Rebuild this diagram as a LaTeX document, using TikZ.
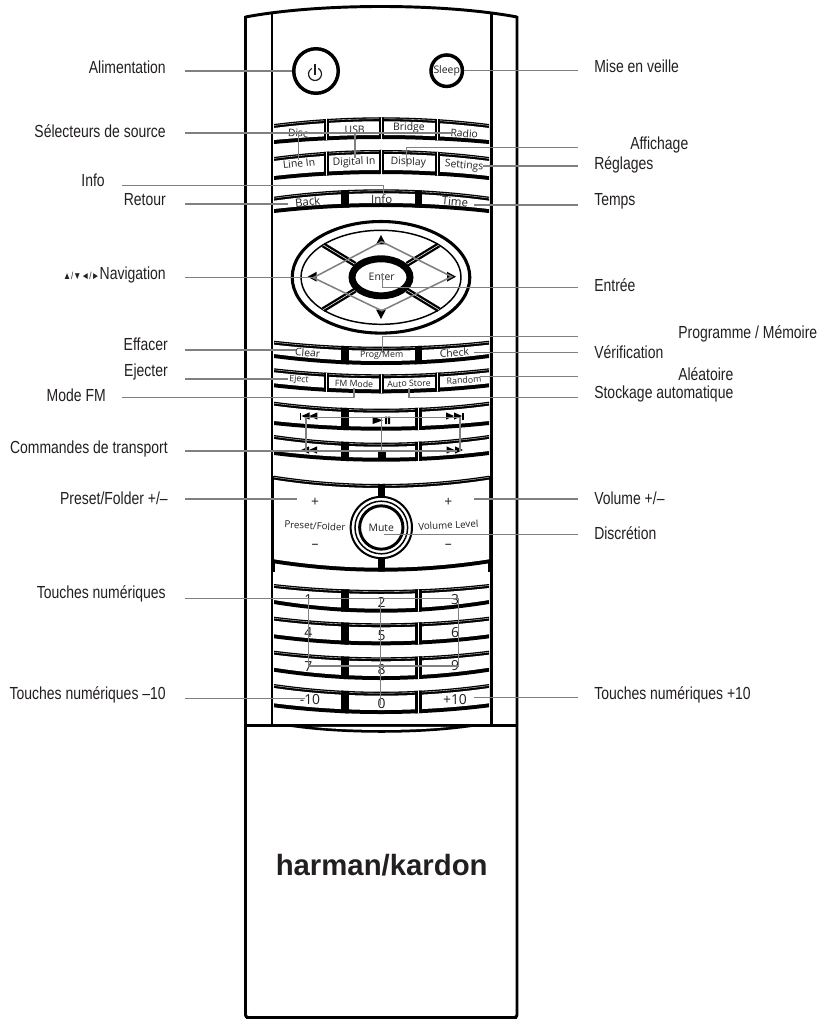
\documentclass[tikz,border=0pt]{standalone}
\usepackage{fontspec}
\setmainfont[FakeStretch=0.8]{Liberation Sans}
\newfontfamily\keyfamily{Open Sans}
\newfontfamily\logofamily{Liberation Sans}
\usetikzlibrary{calc}
\definecolor{leaderGray}{RGB}{128,128,128}
\definecolor{inkDark}{RGB}{35,31,32}
\tikzset{
  leader/.style={draw=leaderGray, line width=1.15pt},
  calloutR/.style={anchor=west, text=inkDark, font=\fontsize{13.1}{15}\selectfont, inner sep=0pt},
  calloutL/.style={anchor=east, text=inkDark, font=\fontsize{13.1}{15}\selectfont, inner sep=0pt},
  keytxt/.style={text=inkDark, font=\keyfamily\fontsize{7.8}{9}\selectfont, inner sep=0pt},
  smalltxt/.style={text=inkDark, font=\keyfamily\fontsize{6.6}{8}\selectfont, inner sep=0pt},
  numtxt/.style={text=inkDark, font=\keyfamily\fontsize{10.4}{12}\selectfont, inner sep=0pt},
  slitDiv/.style={line width=1.75pt, double=white, double distance=0.4pt},
  solidDiv/.style={line width=5.4pt},
  wideDiv/.style={line width=2.4pt, double=white, double distance=0.6pt}
}
\newcommand{\keyrow}[5]{%
  \pgfmathsetmacro{\ctop}{#1+(#2-#1)*4/3}
  \pgfmathsetmacro{\cbot}{#3+(#4-#3)*4/3}
  \begin{scope}
    \fill[black] (274,#1) .. controls (345,\ctop) and (417,\ctop) .. (489,#1)
      -- (489,#3) .. controls (417,\cbot) and (345,\cbot) .. (274,#3) -- cycle;
    \fill[white] (274,#1+4) .. controls (345,\ctop+4) and (417,\ctop+4) .. (489,#1+4)
      -- (489,#3-4) .. controls (417,\cbot-4) and (345,\cbot-4) .. (274,#3-4) -- cycle;
    \draw[white, line width=0.25pt] (274,#1+1.5) .. controls (345,\ctop+1.5) and (417,\ctop+1.5) .. (489,#1+1.5);
    \clip (274,#1) .. controls (345,\ctop) and (417,\ctop) .. (489,#1)
      -- (489,#3) .. controls (417,\cbot) and (345,\cbot) .. (274,#3) -- cycle;
    \foreach \dx/\ds in {#5} {\draw[\ds] (\dx,0) -- (\dx,1023);}
  \end{scope}}
\newcommand{\triR}[2]{\fill[black] (#1,#2-3.6) -- (#1+8,#2) -- (#1,#2+3.6) -- cycle;}
\newcommand{\triL}[2]{\fill[black] (#1,#2-3.6) -- (#1-8,#2) -- (#1,#2+3.6) -- cycle;}
\begin{document}
\begin{tikzpicture}[x=0.75pt, y=-0.75pt]
  \useasboundingbox (0,0) rectangle (823,1023);
  % case
  \draw[line width=2.2pt] (245.5,17) .. controls (320,3) and (442,3) .. (517,17);
  \draw[line width=2.2pt, rounded corners=2pt] (245.5,16.2) -- (245.5,1017.5) -- (517,1017.5) -- (517,16.2);
  \draw[line width=1.6pt] (245.5,1017.5) -- (517,1017.5);
  \draw[line width=2.2pt] (272,12.5) -- (272,725) (491.5,12.5) -- (491.5,725);
  \draw[line width=3.6pt] (273,476) -- (273,572) (490.5,476) -- (490.5,572);
  \draw[line width=2.2pt] (245.5,725.7) -- (517,725.7);
  \fill[black] (285,726) .. controls (340,735) and (423,735) .. (478,726) -- cycle;
  \fill[white] (312,726.8) .. controls (350,731) and (413,731) .. (450,726.8) -- cycle;
  % round buttons
  \node[draw, circle, line width=2.6pt, minimum size=33.4pt, inner sep=0pt] (pwrBtn) at (316,71) {};
  \draw[line width=0.9pt, inkDark] ([shift={(-60:6.5)}]315,74) arc (-60:240:6.5);
  \draw[line width=0.9pt, inkDark] (315,64) -- (315,75);
  \node[draw, circle, line width=2.6pt, minimum size=23.6pt, inner sep=0pt, keytxt] (sleepBtn) at (446.7,70.7) {Sleep};
  % source keys
  \keyrow{124}{117.3}{144}{139}{326.7/slitDiv,381.7/slitDiv,437.3/slitDiv}
  \keyrow{157}{150}{180}{174}{326.7/slitDiv,381.7/slitDiv,437.3/slitDiv}
  \keyrow{196.7}{189.3}{213}{207}{345/solidDiv,418.3/solidDiv}
  \node[keytxt, rotate=-3] (keyDisc) at (298,133) {Disc};
  \node[keytxt] (keyUsb) at (354.7,129.3) {USB};
  \node[keytxt] (keyBridge) at (409,128.3) {Bridge};
  \node[keytxt, rotate=-4] (keyRadio) at (464.3,133.3) {Radio};
  \node[keytxt, rotate=6] (keyLineIn) at (299,163.3) {Line In};
  \node[keytxt, rotate=2] (keyDigital) at (354,162.3) {Digital In};
  \node[keytxt, rotate=-2] (keyDisplay) at (408.3,162.3) {Display};
  \node[keytxt, rotate=-5] (keySettings) at (464,166) {Settings};
  \node[keytxt, font=\keyfamily\fontsize{8.6}{10}\selectfont, rotate=6] (keyBack) at (307.7,201.7) {Back};
  \node[keytxt, font=\keyfamily\fontsize{8.6}{10}\selectfont] (keyInfo) at (381.7,198.7) {Info};
  \node[keytxt, font=\keyfamily\fontsize{8.6}{10}\selectfont, rotate=-5] (keyTime) at (455,201.7) {Time};
  % navigation
  \draw[line width=2.3pt] (381,277.3) ellipse (88.8 and 55.8);
  \draw[line width=1.1pt] (381,277.3) ellipse (80 and 47);
  \draw[slitDiv] (323.3,245) -- (355,264.3);
  \draw[slitDiv] (438.7,245) -- (407,264.3);
  \draw[slitDiv] (323.3,309.6) -- (355,290.3);
  \draw[slitDiv] (438.7,309.6) -- (407,290.3);
  \draw[line width=5.2pt, fill=white] (381,277.3) ellipse (29 and 18.5);
  \node[keytxt] (keyEnter) at (381.7,277.3) {Enter};
  \fill[black] (381,235) -- (386,244.5) -- (376,244.5) -- cycle;
  \fill[black] (381,319) -- (386,309.5) -- (376,309.5) -- cycle;
  \fill[black] (307.7,276.7) -- (316.7,271.7) -- (316.7,281.7) -- cycle;
  \fill[black] (456,276.7) -- (447,271.7) -- (447,281.7) -- cycle;
  % function keys
  \keyrow{340.7}{346.7}{358}{365}{345/solidDiv,418.3/solidDiv}
  \keyrow{368.3}{374.3}{387.3}{393.3}{326.7/slitDiv,381.7/slitDiv,437.3/slitDiv}
  \keyrow{401.7}{408.7}{425}{430.7}{345/solidDiv,418.3/wideDiv}
  \keyrow{435}{442.7}{455}{461.7}{345/solidDiv,418.3/wideDiv}
  \node[keytxt, rotate=-4] (keyClear) at (307.7,352.7) {Clear};
  \node[smalltxt] (keyProg) at (381.7,355) {Prog/Mem};
  \node[keytxt, rotate=4] (keyCheck) at (454.3,352.7) {Check};
  \node[smalltxt, rotate=-4] (keyEject) at (299,380) {Eject};
  \node[smalltxt, rotate=-1] (keyFm) at (354,383.7) {FM Mode};
  \node[smalltxt, rotate=1] (keyAuto) at (409,383.7) {Auto Store};
  \node[smalltxt, rotate=4] (keyRandom) at (464,380) {Random};
  % transport symbols
  \fill[black] (300,412.5) rectangle (301.3,419.7);
  \triL{309.5}{416} \triL{317.3}{416}
  \triR{446}{416} \triR{454}{416}
  \fill[black] (462.3,412.5) rectangle (463.7,419.7);
  \triL{309}{450} \triL{317}{450}
  \triR{446.5}{450} \triR{455}{450}
  \fill[black] (372.7,416.7) -- (383,420.3) -- (372.7,424) -- cycle;
  \fill[black] (385,416.7) rectangle (387,424) (388,416.7) rectangle (390,424);
  \fill[black] (378.3,450.7) rectangle (386,457.5);
  % level panel
  \keyrow{475.7}{484}{563.3}{571.7}{381.7/solidDiv}
  \fill[white] (345,497) rectangle (418,558);
  \node[draw, circle, line width=1.5pt, minimum size=46pt, inner sep=0pt, fill=white] (muteRingA) at (381.3,527.5) {};
  \node[draw, circle, line width=1.1pt, minimum size=39.5pt, inner sep=0pt] (muteRingB) at (381.3,527.5) {};
  \node[draw, circle, line width=2.2pt, minimum size=32.5pt, inner sep=0pt, keytxt] (muteBtn) at (381.3,527.5) {Mute};
  \node[numtxt] (presetPlus) at (315,502.7) {+};
  \node[keytxt, font=\keyfamily\fontsize{7.3}{9}\selectfont, rotate=-3] (presetTxt) at (315,525.7) {Preset/Folder};
  \node[numtxt] (presetMinus) at (315,546.7) {–};
  \node[numtxt] (volPlus) at (448.3,502.7) {+};
  \node[keytxt, font=\keyfamily\fontsize{7.3}{9}\selectfont, rotate=3] (volTxt) at (448.3,525) {Volume Level};
  \node[numtxt] (volMinus) at (448.3,546.7) {–};
  % number keys
  \keyrow{584}{590}{604}{612.7}{345/solidDiv,418.3/wideDiv}
  \keyrow{616.7}{623.3}{638.3}{645.3}{345/solidDiv,418.3/wideDiv}
  \keyrow{650.7}{657.3}{671.7}{680}{345/solidDiv,418.3/wideDiv}
  \keyrow{684}{691.7}{707.3}{714}{345/solidDiv,418.3/wideDiv}
  \node[numtxt] (num1) at (308.3,599.3) {1};
  \node[numtxt] (num2) at (381.7,602.3) {2};
  \node[numtxt] (num3) at (455,599.3) {3};
  \node[numtxt] (num4) at (308.3,632.7) {4};
  \node[numtxt] (num5) at (381.7,635.7) {5};
  \node[numtxt] (num6) at (455,632.7) {6};
  \node[numtxt] (num7) at (308.3,666.7) {7};
  \node[numtxt] (num8) at (381.7,670) {8};
  \node[numtxt] (num9) at (455,666) {9};
  \node[numtxt] (numMinus) at (310,700) {-10};
  \node[numtxt] (num0) at (381.7,703.3) {0};
  \node[numtxt] (numPlus) at (455,699.3) {+10};
  \node[font=\logofamily\bfseries\fontsize{22}{24}\selectfont, text=inkDark, inner sep=0pt] (logo) at (381.7,865) {harman/kardon};
  % callouts, left side
  \node[calloutL] (lblPower) at (166,67) {Alimentation};
  \node[calloutL] (lblSource) at (166,130.7) {Sélecteurs de source};
  \node[calloutL] (lblInfo) at (105,180) {Info};
  \node[calloutL] (lblBack) at (166,200) {Retour};
  \node[calloutL] (lblNav) at (166,275) {{\fontsize{7.6}{8}\selectfont ▲/▼◄/►}Navigation};
  \node[calloutL] (lblClear) at (168,344) {Effacer};
  \node[calloutL] (lblEject) at (168,372) {Ejecter};
  \node[calloutL] (lblFm) at (106,395) {Mode FM};
  \node[calloutL] (lblTrans) at (168,449) {Commandes de transport};
  \node[calloutL] (lblPreset) at (168,498) {Preset/Folder +/–};
  \node[calloutL] (lblNum) at (166,594) {Touches numériques};
  \node[calloutL] (lblMinus) at (166,695) {Touches numériques –10};
  % callouts, right side
  \node[calloutR] (lblSleep) at (594,66) {Mise en veille};
  \node[calloutR] (lblDisplay) at (630,145) {Affichage};
  \node[calloutR] (lblSettings) at (594,165) {Réglages};
  \node[calloutR] (lblTime) at (594,201) {Temps};
  \node[calloutR] (lblEnter) at (594,285) {Entrée};
  \node[calloutR] (lblProg) at (678,334) {Programme / Mémoire};
  \node[calloutR] (lblCheck) at (594,352) {Vérification};
  \node[calloutR] (lblRandom) at (678,374) {Aléatoire};
  \node[calloutR] (lblAuto) at (594,394) {Stockage automatique};
  \node[calloutR] (lblVol) at (594,498) {Volume +/–};
  \node[calloutR] (lblMute) at (594,533) {Discrétion};
  \node[calloutR] (lblPlus) at (594,695) {Touches numériques +10};
  % leader ends
  \coordinate (fromPower) at (185,71);
  \coordinate (fromSource) at (185,133);
  \coordinate (toRadio) at (451.7,133);
  \coordinate (toLineIn) at (298.3,160);
  \coordinate (toDigital) at (355,158);
  \coordinate (fromInfo) at (122,185.3);
  \coordinate (toInfo) at (383.3,196);
  \coordinate (fromBack) at (185,204);
  \coordinate (toBack) at (288.3,204);
  \coordinate (fromNav) at (185,277.7);
  \coordinate (navLeft) at (313.3,277.7);
  \coordinate (navUp) at (381.7,241.7);
  \coordinate (navRight) at (451.7,276.7);
  \coordinate (navDown) at (381.7,310.7);
  \coordinate (fromClear) at (185,350);
  \coordinate (toClear) at (296,350);
  \coordinate (fromEject) at (185,379);
  \coordinate (toEject) at (288.3,379);
  \coordinate (fromFm) at (122,397.7);
  \coordinate (toFm) at (354,388.3);
  \coordinate (fromTrans) at (185,451);
  \coordinate (toFfwd) at (456.7,451);
  \coordinate (transLeft) at (306,417.3);
  \coordinate (transRight) at (460,417.3);
  \coordinate (transMid) at (381.7,417.3);
  \coordinate (fromPreset) at (185,499);
  \coordinate (toPreset) at (296.7,499);
  \coordinate (fromNum) at (185,598.3);
  \coordinate (numRight) at (458.3,598.3);
  \coordinate (numMid) at (380.7,598.3);
  \coordinate (numLeft) at (308.3,598.3);
  \coordinate (numLow) at (308.3,666);
  \coordinate (numLowR) at (458.3,666);
  \coordinate (toZero) at (380.7,705);
  \coordinate (fromMinus) at (185,698.7);
  \coordinate (toMinus) at (305,698.7);
  \coordinate (fromSleep) at (578,70.7);
  \coordinate (fromDisplay) at (578,147.3);
  \coordinate (toDisplay) at (406.7,163);
  \coordinate (fromSettings) at (578,166);
  \coordinate (toSettings) at (482.7,166);
  \coordinate (fromTime) at (578,205);
  \coordinate (toTime) at (474.3,205);
  \coordinate (fromEnter) at (578,287.3);
  \coordinate (toEnter) at (382.3,273.3);
  \coordinate (fromProg) at (578,336.7);
  \coordinate (toProg) at (382.3,353.3);
  \coordinate (fromCheck) at (578,352.7);
  \coordinate (toCheck) at (474.3,352.7);
  \coordinate (fromRandom) at (578,376.7);
  \coordinate (toRandom) at (480,376.7);
  \coordinate (fromAuto) at (578,397.7);
  \coordinate (toAuto) at (409,388.3);
  \coordinate (fromVol) at (578,499);
  \coordinate (toVol) at (474.3,499);
  \coordinate (fromMute) at (578,534.7);
  \coordinate (toMute) at (384,534.7);
  \coordinate (fromPlus) at (578,697.3);
  \coordinate (toPlus) at (474.3,697.3);
  % leaders
  \draw[leader] (fromPower) -- (pwrBtn.west);
  \draw[leader] (fromSleep) -- (sleepBtn.east);
  \draw[leader] (fromSource) -- (toRadio);
  \draw[leader] (toLineIn) -- (toLineIn |- fromSource);
  \draw[leader] (toDigital) -- (toDigital |- fromSource);
  \draw[leader] (fromDisplay) -| (toDisplay);
  \draw[leader] (fromSettings) -- (toSettings);
  \draw[leader] (fromInfo) -| (toInfo);
  \draw[leader] (fromBack) -- (toBack);
  \draw[leader] (fromTime) -- (toTime);
  \draw[leader] (fromNav) -- (navLeft);
  \draw[leader] (navLeft) -- (navUp) -- (navRight) -- (navDown) -- cycle;
  \draw[leader] (fromEnter) -| (toEnter);
  \draw[leader] (fromProg) -| (toProg);
  \draw[leader] (fromCheck) -- (toCheck);
  \draw[leader] (fromClear) -- (toClear);
  \draw[leader] (fromEject) -- (toEject);
  \draw[leader] (fromRandom) -- (toRandom);
  \draw[leader] (fromFm) -| (toFm);
  \draw[leader] (fromAuto) -| (toAuto);
  \draw[leader] (fromTrans) -- (toFfwd);
  \draw[leader] (transLeft) -- (transRight);
  \draw[leader] (transLeft) -- (transLeft |- fromTrans);
  \draw[leader] (transRight) -- (transRight |- fromTrans);
  \draw[leader] (transMid) -- (transMid |- fromTrans);
  \draw[leader] (fromPreset) -- (toPreset);
  \draw[leader] (fromVol) -- (toVol);
  \draw[leader] (fromMute) -- (toMute);
  \draw[leader] (fromNum) -- (numRight) -- (numLowR) -- (numLow) -- (numLeft);
  \draw[leader] (numMid) -- (toZero);
  \draw[leader] (fromMinus) -- (toMinus);
  \draw[leader] (fromPlus) -- (toPlus);
\end{tikzpicture}
\end{document}
